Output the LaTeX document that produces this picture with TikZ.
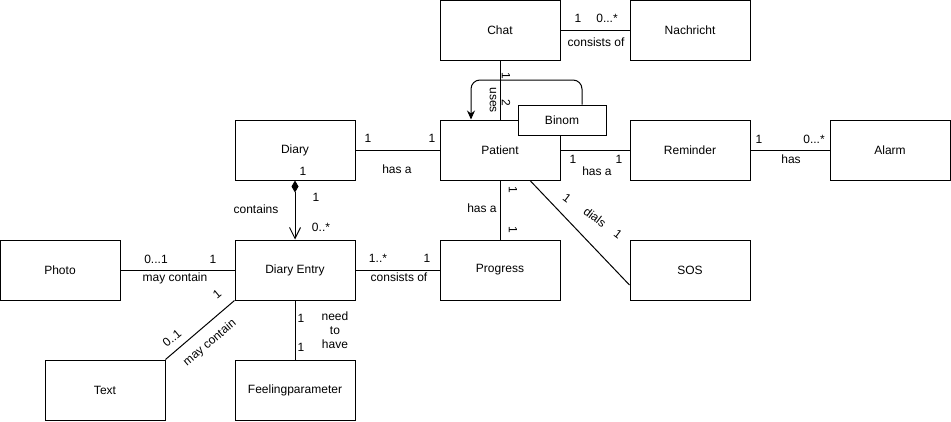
\documentclass[tikz,border=0pt]{standalone}
\usepackage{fontspec}
\setmainfont{Liberation Sans}
\usetikzlibrary{positioning,arrows.meta}

\tikzset{
  cls/.style={draw, line width=1pt, fill=white, minimum width=120pt,
    minimum height=60pt, inner sep=0pt},
  lab/.style={inner sep=0pt},
  assoc/.style={line width=1pt},
}

\begin{document}
\begin{tikzpicture}[x=1pt,y=-1pt, every node/.style={font=\fontsize{12}{14}\selectfont}]
        \useasboundingbox (0,0) rectangle (951,421);
        % classes
        \node[cls] (chat) at (500,30) {Chat};
        \node[cls] (nachricht) at (690,30) {Nachricht};
        \node[cls] (diary) at (295,150) {Diary};
        \node[cls] (patient) at (500,150) {Patient};
        \node[cls] (reminder) at (690,150) {Reminder};
        \node[cls] (alarm) at (890,150) {Alarm};
        \node[cls] (photo) at (60,270) {Photo};
        \node[cls] (dentry) at (295,270) {Diary Entry};
        \node[cls] (progress) at (500,270) {Progress};
        \node[cls] (sos) at (690,270) {SOS};
        \node[cls] (txt) at (105,390) {Text};
        \node[cls] (feeling) at (295,390) {Feelingparameter};
        \node[cls, minimum width=88pt, minimum height=30pt] (binom) at (562,120) {Binom};
        \coordinate (bend) at (471,80);

        % associations
        \draw[assoc] (chat) -- (nachricht);
        \draw[assoc] (chat) -- (patient);
        \draw[assoc, rounded corners=9pt, -{Stealth[length=9pt,width=8pt]}]
          ([xshift=20pt]binom.north) |- (bend) -- ([xshift=-29pt]patient.north);
        \draw[assoc] (diary) -- (patient);
        \draw[assoc] (patient) -- (reminder);
        \draw[assoc] (reminder) -- (alarm);
        \draw[assoc, {Diamond[length=12pt,width=7pt]}-{Straight Barb[length=11pt,width=11pt]}]
          (diary) -- (dentry);
        \draw[assoc] (photo) -- (dentry);
        \draw[assoc] (dentry) -- (progress);
        \draw[assoc] (dentry) -- (feeling);
        \draw[assoc] (dentry.south west) -- (txt.north east);
        \draw[assoc] (patient) -- (progress);
        \draw[assoc] ([xshift=30pt]patient.south) -- ([yshift=-15pt]sos.west);

        % multiplicities and roles
        \node[lab] (cn1) at (578,18) {1};
        \node[lab] (cn2) at (607,18) {0...*};
        \node[lab] (cnl) at (596,42) {consists of};
        \node[lab, rotate=-90] (cp1) at (506,76) {1};
        \node[lab, rotate=-90] (cpl) at (493,100) {uses};
        \node[lab, rotate=-90] (cp2) at (506,103) {2};
        \node[lab] (dp1) at (368,138) {1};
        \node[lab] (dp2) at (432,138) {1};
        \node[lab] (dpl) at (397,169) {has a};
        \node[lab] (dd0) at (303,171) {1};
        \node[lab] (dd1) at (316,197) {1};
        \node[lab] (dd2) at (321,227) {0..*};
        \node[lab] (ddl) at (256,209) {contains};
        \node[lab] (pr1) at (573,159) {1};
        \node[lab] (pr2) at (619,159) {1};
        \node[lab] (prl) at (597,171) {has a};
        \node[lab] (ra1) at (759,139) {1};
        \node[lab] (ra2) at (814,139) {0...*};
        \node[lab] (ral) at (791,159) {has};
        \node[lab, rotate=-90] (pg1) at (513,190) {1};
        \node[lab, rotate=-90] (pg2) at (513,230) {1};
        \node[lab] (pgl) at (482,208) {has a};
        \node[lab, rotate=-37] (ps1) at (567,198) {1};
        \node[lab, rotate=-37] (psl) at (595,217) {dials};
        \node[lab, rotate=-37] (ps2) at (618,234) {1};
        \node[lab] (ph1) at (156,259) {0...1};
        \node[lab] (ph2) at (213,259) {1};
        \node[lab] (phl) at (175,278) {may contain};
        \node[lab] (de1) at (378,258) {1..*};
        \node[lab] (de2) at (427,258) {1};
        \node[lab] (del) at (399,277) {consists of};
        \node[lab] (fe1) at (301,318) {1};
        \node[lab] (fe2) at (301,347) {1};
        \node[lab, align=center] (fel) at (335,330) {need\\to\\have};
        \node[lab, rotate=40] (tx1) at (217,294) {1};
        \node[lab, rotate=40] (tx2) at (172,338) {0..1};
        \node[lab, rotate=40] (txl) at (210,343) {may contain};
      \end{tikzpicture}
\end{document}
